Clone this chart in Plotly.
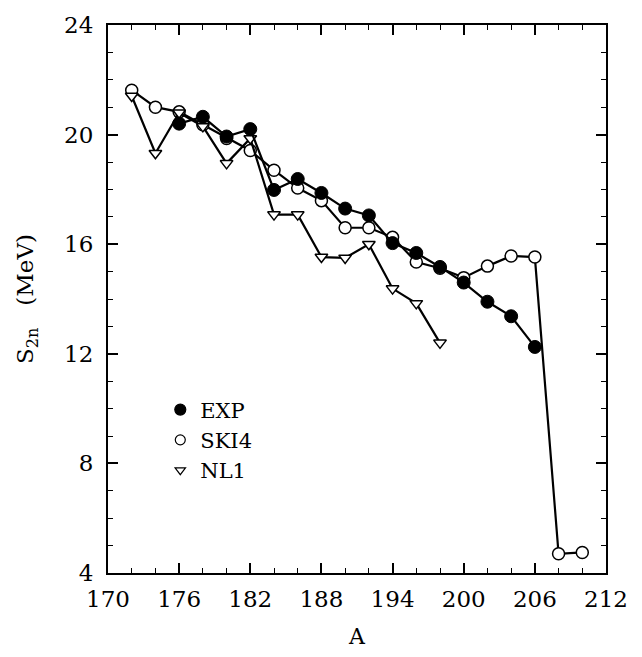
import plotly.graph_objects as go

# Two-neutron separation energies S2n (MeV) versus mass number A
a_exp = [176, 178, 180, 182, 184, 186, 188, 190, 192, 194, 196, 198, 200, 202, 204, 206]
s2n_exp = [20.4, 20.65, 19.93, 20.2, 17.98, 18.38, 17.87, 17.3, 17.05, 16.04, 15.68, 15.17, 14.6, 13.9, 13.37, 12.25]

a_ski4 = [172, 174, 176, 178, 180, 182, 184, 186, 188, 190, 192, 194, 196, 198, 200, 202, 204, 206, 208, 210]
s2n_ski4 = [21.62, 21.0, 20.83, 20.36, 19.86, 19.42, 18.7, 18.05, 17.59, 16.6, 16.6, 16.25, 15.35, 15.12, 14.78, 15.2, 15.57, 15.53, 4.7, 4.75]

a_nl1 = [172, 174, 176, 178, 180, 182, 184, 186, 188, 190, 192, 194, 196, 198]
s2n_nl1 = [21.41, 19.32, 20.8, 20.3, 18.95, 19.86, 17.08, 17.08, 15.53, 15.5, 16.0, 14.38, 13.84, 12.4]

x_ticks = [170, 176, 182, 188, 194, 200, 206, 212]
y_ticks = [4, 8, 12, 16, 20, 24]

FONT = "DejaVu Serif"
LINE = dict(color="black", width=2.2)

fig = go.Figure()

fig.add_trace(go.Scatter(
    x=a_ski4, y=s2n_ski4, mode="lines+markers", line=LINE, showlegend=False,
    marker=dict(symbol="circle", size=12, color="white", line=dict(color="black", width=1.5)),
))
fig.add_trace(go.Scatter(
    x=a_nl1, y=s2n_nl1, mode="lines+markers", line=LINE, showlegend=False,
    marker=dict(symbol="triangle-down", size=11, color="white", line=dict(color="black", width=1.5)),
))
fig.add_trace(go.Scatter(
    x=a_exp, y=s2n_exp, mode="lines+markers", line=LINE, showlegend=False,
    marker=dict(symbol="circle", size=13, color="black", line=dict(color="black", width=1)),
))

# legend entries (markers only)
for name, sym, size in [("EXP", "circle", 11),
                        ("SKI4", "circle-open", 10),
                        ("NL1", "triangle-down-open", 9)]:
    fig.add_trace(go.Scatter(
        x=[None], y=[None], mode="markers", name=name,
        marker=dict(symbol=sym, size=size, color="black", line=dict(color="black", width=1.2)),
    ))

axis_common = dict(
    showgrid=False, zeroline=False, showline=True, linecolor="black", linewidth=2,
    mirror="ticks", ticks="inside", tickcolor="black", tickwidth=1.5, ticklen=10,
    tickfont=dict(family=FONT, size=23, color="black"),
)

fig.update_xaxes(
    range=[170, 212], tickmode="array", tickvals=x_ticks, ticktext=[str(v) for v in x_ticks],
    minor=dict(dtick=2, ticks="inside", ticklen=5, tickcolor="black", tickwidth=1),
    title=dict(text="A", font=dict(family=FONT, size=22, color="black"), standoff=18),
    ticklabelstandoff=4,
    **axis_common,
)
fig.update_yaxes(
    range=[4, 24], tickmode="array", tickvals=y_ticks, ticktext=[str(v) for v in y_ticks],
    minor=dict(dtick=1, ticks="inside", ticklen=5, tickcolor="black", tickwidth=1),
    title=dict(text="S<sub>2n</sub>   (MeV)", font=dict(family=FONT, size=23, color="black"), standoff=24),
    ticklabelstandoff=8,
    **axis_common,
)

fig.update_layout(
    width=642, height=657,
    margin=dict(l=108, r=36, t=18, b=84),
    paper_bgcolor="white", plot_bgcolor="white",
    legend=dict(
        x=0.105, y=0.335, xanchor="left", yanchor="top",
        font=dict(family=FONT, size=21, color="black"),
        bgcolor="rgba(0,0,0,0)", itemsizing="trace", tracegroupgap=0,
    ),
)

fig.write_html("out.html")
